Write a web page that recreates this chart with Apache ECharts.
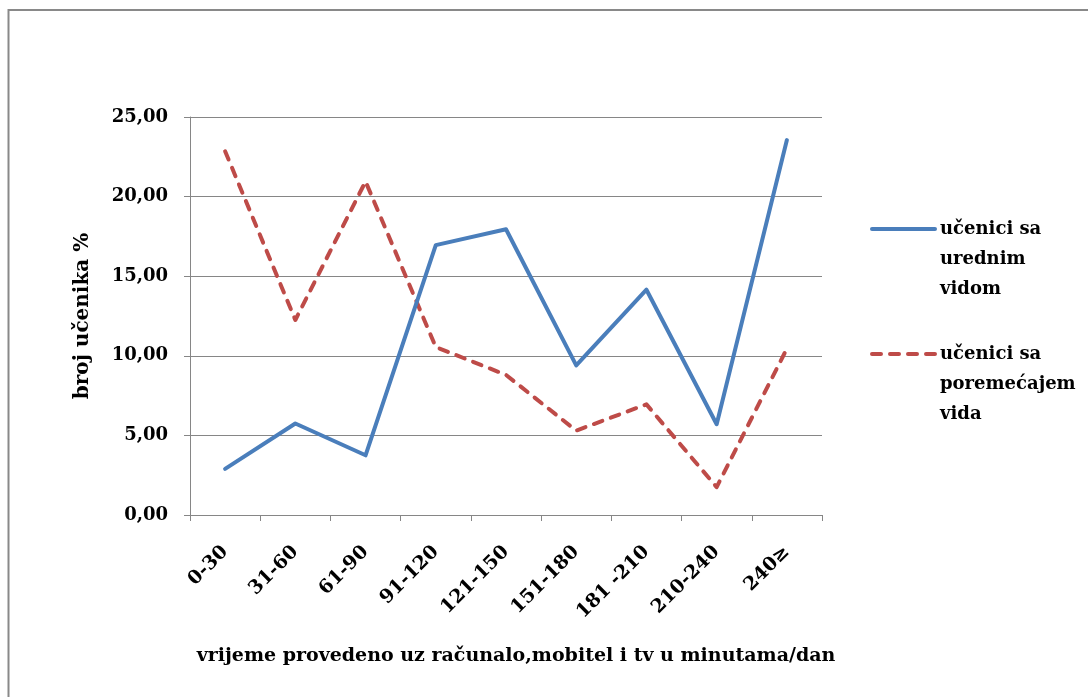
<!DOCTYPE html>
<html>
<head>
<meta charset="utf-8">
<script src="https://cdn.jsdelivr.net/npm/echarts@6/dist/echarts.min.js"></script>
<style>
html,body{margin:0;padding:0;background:#fff;}
#c{width:1088px;height:697px;}
</style>
</head>
<body>
<div id="c"></div>
<script>
var categories = ['0-30','31-60','61-90','91-120','121-150','151-180','181 -210','210-240','240≥'];
var seriesNames = ['učenici sa urednim vidom','učenici sa poremećajem vida'];
var legendLines = [['učenici sa','urednim','vidom'],['učenici sa','poremećajem','vida']];
var normalVision = [2.9, 5.75, 3.75, 16.95, 17.95, 9.4, 14.15, 5.7, 23.55];
var impairedVision = [22.85, 12.25, 20.95, 10.55, 8.8, 5.3, 6.95, 1.75, 10.45];
var yTicks = {min: 0, max: 25, interval: 5};
var yAxisTitle = 'broj učenika %';
var xAxisTitle = 'vrijeme provedeno uz računalo,mobitel i tv u minutama/dan';

var FONT = '"DejaVu Serif", "Liberation Serif", serif';
var GRIDC = '#868686';
var BLUE = '#4A7EBB';
var RED = '#BE4B48';

var chart = echarts.init(document.getElementById('c'), null, {renderer: 'canvas'});

function legendFormatter(name) {
  var idx = seriesNames.indexOf(name);
  return '\n\n' + legendLines[idx].join('\n');
}

var legendText = {fontFamily: FONT, fontWeight: 'bold', fontSize: 18, color: '#000', lineHeight: 30};

var option = {
  backgroundColor: '#ffffff',
  animation: false,
  graphic: [{
    type: 'rect',
    shape: {x: 8.5, y: 10, width: 1200, height: 800},
    style: {fill: 'none', stroke: '#898989', lineWidth: 2},
    silent: true
  }],
  grid: {left: 190, right: 266, top: 117, bottom: 182, containLabel: false},
  legend: [{
    data: [seriesNames[0]],
    orient: 'vertical',
    left: 870, top: 154,
    padding: 0,
    itemWidth: 63, itemHeight: 14,
    formatter: legendFormatter,
    itemStyle: {opacity: 0},
    lineStyle: {width: 4, cap: 'round'},
    textStyle: legendText
  }, {
    data: [seriesNames[1]],
    orient: 'vertical',
    left: 870, top: 279,
    padding: 0,
    itemWidth: 63, itemHeight: 14,
    formatter: legendFormatter,
    itemStyle: {opacity: 0},
    lineStyle: {width: 4, cap: 'round'},
    textStyle: legendText
  }],
  xAxis: {
    type: 'category',
    data: categories,
    boundaryGap: true,
    name: xAxisTitle,
    nameLocation: 'middle',
    nameGap: 132,
    nameTextStyle: {fontFamily: FONT, fontWeight: 'bold', fontSize: 19, color: '#000', padding: [0, 0, 0, 20]},
    axisLine: {show: true, lineStyle: {color: GRIDC, width: 1}},
    axisTick: {show: true, length: 6, inside: false, alignWithLabel: false, lineStyle: {color: GRIDC}},
    axisLabel: {rotate: 45, margin: 34, interval: 0, fontFamily: FONT, fontWeight: 'bold', fontSize: 19, color: '#000'},
    splitLine: {show: false}
  },
  yAxis: {
    type: 'value',
    min: yTicks.min, max: yTicks.max, interval: yTicks.interval,
    name: yAxisTitle,
    nameLocation: 'middle',
    nameGap: 97,
    nameRotate: 90,
    nameTextStyle: {fontFamily: FONT, fontWeight: 'bold', fontSize: 20, color: '#000'},
    axisLine: {show: true, lineStyle: {color: GRIDC, width: 1}},
    axisTick: {show: true, length: 6, inside: false, lineStyle: {color: GRIDC}},
    axisLabel: {margin: 22, fontFamily: FONT, fontWeight: 'bold', fontSize: 18, color: '#000',
      formatter: function (v) { return v.toFixed(2).replace('.', ','); }},
    splitLine: {show: true, lineStyle: {color: GRIDC, width: 1}}
  },
  series: [{
    name: seriesNames[0],
    type: 'line',
    data: normalVision,
    symbol: 'none',
    smooth: false,
    lineStyle: {color: BLUE, width: 4, cap: 'round', join: 'round'},
    itemStyle: {color: BLUE},
    z: 3
  }, {
    name: seriesNames[1],
    type: 'line',
    data: impairedVision,
    symbol: 'none',
    smooth: false,
    lineStyle: {color: RED, width: 4, type: [9, 9], cap: 'round', join: 'round'},
    itemStyle: {color: RED},
    z: 2
  }]
};
chart.setOption(option);
</script>
</body>
</html>
